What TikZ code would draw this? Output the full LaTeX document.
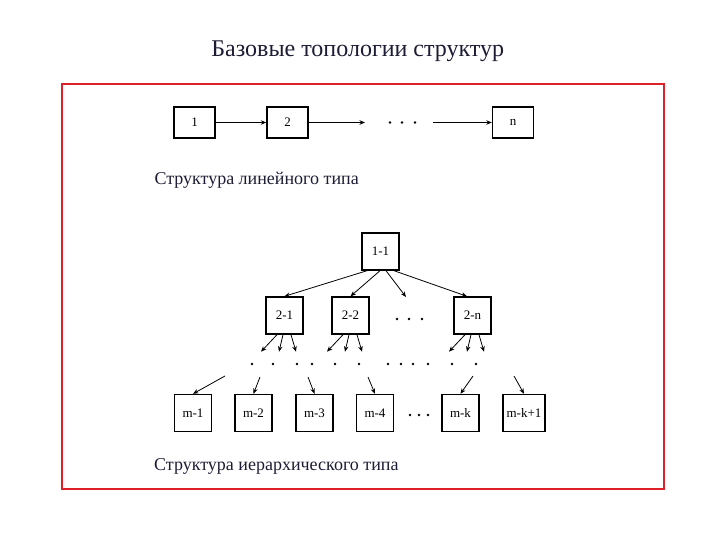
\documentclass[tikz,border=0pt]{standalone}
\usepackage{fontspec}
\setmainfont{Liberation Serif}
\usetikzlibrary{arrows.meta,calc}

\definecolor{frame}{RGB}{222,32,40}
\definecolor{ink}{RGB}{28,28,52}

\begin{document}
\begin{tikzpicture}[x=1pt,y=-1pt,
  box/.style={draw, line width=1.4pt, minimum width=37pt, minimum height=37pt,
    inner sep=0pt, font=\fontsize{13}{15}\selectfont},
  caption/.style={anchor=base west, inner sep=0pt, text=ink, font=\fontsize{18}{20}\selectfont},
  arr/.style={line width=0.8pt, -{Stealth[length=5.5pt,width=4.5pt]}}]
  \useasboundingbox (0,0) rectangle (720,540);

  \node[anchor=base, inner sep=0pt, text=ink] (title) at (357.8,56.7) {\fontsize{24}{28}\selectfont Базовые топологии структур};
  \draw[frame, line width=2.4pt] (62,84) rectangle (664,489);

  % linear structure
  \node[box, minimum width=41pt, minimum height=31pt] (l1) at (194.5,122.5) {1};
  \node[box, minimum width=41pt, minimum height=31pt] (l2) at (287.5,122.5) {2};
  \node[box, minimum width=41pt, minimum height=31pt] (ln) at (513,122.5) {n};
  \coordinate (la) at (365,122.5); % end of arrow before dots
  \coordinate (lb) at (433,122.5); % start of arrow after dots
  \draw[arr] (l1) -- (l2);
  \draw[arr] (l2) -- (la);
  \draw[arr] (lb) -- (ln);
  \foreach \x in {390,402,415} \fill (\x,122.5) circle(1.3pt);
  \node[caption] (cap1) at (154.3,184.3) {Структура линейного типа};

  % hierarchical structure
  \node[box] (t11) at (380.5,251.5) {1-1};
  \node[box] (t21) at (284.5,315.5) {2-1};
  \node[box] (t22) at (350.5,315.5) {2-2};
  \node[box] (t2n) at (472.5,315.5) {2-n};
  \coordinate (tmid) at (406,297);
  \draw[arr] ([xshift=-13.5pt]t11.south) -- (t21.north);
  \draw[arr] ([xshift=-0.5pt]t11.south) -- (t22.north);
  \draw[arr] ([xshift=5.5pt]t11.south) -- (tmid);
  \draw[arr] ([xshift=13.5pt]t11.south) -- ([xshift=-5.5pt]t2n.north);
  \foreach \x in {397,409,422} \fill (\x,319) circle(1.3pt);

  % second level to dots
  \foreach \p in {t21,t22,t2n} {
    \coordinate (\p-a) at ($(\p.south)+(-23.5,17)$);
    \coordinate (\p-b) at ($(\p.south)+(-5.5,17)$);
    \coordinate (\p-c) at ($(\p.south)+(11.5,17)$);
    \draw[arr] ([xshift=-7.5pt]\p.south) -- (\p-a);
    \draw[arr] ([xshift=-1.5pt]\p.south) -- (\p-b);
    \draw[arr] ([xshift=6.5pt]\p.south) -- (\p-c);
  }
  \foreach \x in {252,273,297,312,335,359,388,401,413,428,452,476}
    \fill (\x,364) circle(1.3pt);

  % bottom level
  \node[box] (m1) at (193,413) {m-1};
  \node[box] (m2) at (253.5,413) {m-2};
  \node[box] (m3) at (314.5,413) {m-3};
  \node[box] (m4) at (375,413) {m-4};
  \node[box] (mk) at (460.5,413) {m-k};
  \node[box, minimum width=42pt] (mk1) at (524,413) {m-k+1};
  \foreach \x in {410,419,428} \fill (\x,415) circle(1.3pt);
  \coordinate (s1) at (225,376);
  \coordinate (s2) at (260,377);
  \coordinate (s3) at (308,377);
  \coordinate (s4) at (368,377);
  \coordinate (sk) at (473,376);
  \coordinate (sk1) at (514,376);
  \draw[arr] (s1) -- (m1.north);
  \draw[arr] (s2) -- (m2.north);
  \draw[arr] (s3) -- (m3.north);
  \draw[arr] (s4) -- (m4.north);
  \draw[arr] (sk) -- (mk.north);
  \draw[arr] (sk1) -- (mk1.north);
  \node[caption] (cap2) at (154,470) {Структура иерархического типа};
\end{tikzpicture}
\end{document}
